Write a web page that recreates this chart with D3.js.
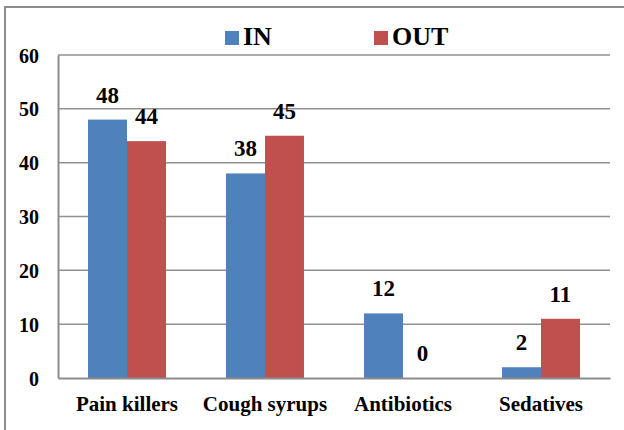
<!DOCTYPE html>
<html>
<head>
<meta charset="utf-8">
<script src="https://cdn.jsdelivr.net/npm/d3@7/dist/d3.min.js"></script>
<style>
  body { margin: 0; background: #fff; }
  svg { display: block; }
</style>
</head>
<body>
<svg id="chart" width="624" height="430"></svg>
<script>
// data
var categories = ["Pain killers", "Cough syrups", "Antibiotics", "Sedatives"];
var seriesNames = ["IN", "OUT"];
var inValues = [48, 38, 12, 2];
var outValues = [44, 45, 0, 11];
var yTicks = [0, 10, 20, 30, 40, 50, 60];
var colors = ["#4f81bd", "#c0504d"];

var fontFamily = "'Times New Roman', 'Liberation Serif', serif";

var svg = d3.select("#chart");

function boldText(sel, size) {
  return sel.attr("font-family", fontFamily)
    .attr("font-weight", "bold")
    .attr("font-size", size)
    .style("font-family", fontFamily)
    .style("font-weight", "bold")
    .style("font-size", size + "px")
    .attr("fill", "#000");
}

// outer frame (runs off the right and bottom edge like the source)
svg.append("path")
  .attr("d", "M5,440 L5,7 L640,7")
  .attr("fill", "none")
  .attr("stroke", "#8c8c8c")
  .attr("stroke-width", 2);

var plotLeft = 58, plotRight = 610, plotTop = 55, plotBottom = 378;

var y = d3.scaleLinear().domain([0, 60]).range([plotBottom, plotTop]);
var x0 = d3.scaleBand().domain(categories).range([plotLeft, plotRight]).paddingInner(0.435).paddingOuter(0.2175);
var x1 = d3.scaleBand().domain(seriesNames).range([0, x0.bandwidth()]);

// gridlines
svg.append("g")
  .selectAll("line")
  .data(yTicks.filter(function(d) { return d > 0; }))
  .enter().append("line")
  .attr("x1", plotLeft).attr("x2", plotRight)
  .attr("y1", function(d) { return y(d); })
  .attr("y2", function(d) { return y(d); })
  .attr("stroke", "#909090")
  .attr("stroke-width", 1.5);

// y axis
var yAxis = svg.append("g")
  .attr("transform", "translate(" + plotLeft + ",0)")
  .call(d3.axisLeft(y).tickValues(yTicks).tickSize(0).tickPadding(19));
yAxis.attr("font-family", null).attr("font-size", null);
yAxis.select(".domain").attr("stroke", "#8c8c8c").attr("stroke-width", 2);
boldText(yAxis.selectAll("text"), 20).attr("dy", "0.35em");

var rows = categories.map(function(c, i) {
  return { cat: c, vals: [inValues[i], outValues[i]] };
});

var groups = svg.append("g").selectAll("g")
  .data(rows)
  .enter().append("g")
  .attr("transform", function(d) { return "translate(" + x0(d.cat) + ",0)"; });

groups.selectAll("rect")
  .data(function(d) { return d.vals.map(function(v, j) { return { name: seriesNames[j], v: v, j: j }; }); })
  .enter().append("rect")
  .attr("x", function(d) { return x1(d.name); })
  .attr("y", function(d) { return y(d.v); })
  .attr("width", x1.bandwidth())
  .attr("height", function(d) { return plotBottom - y(d.v); })
  .attr("fill", function(d) { return colors[d.j]; });

var labels = groups.selectAll("text")
  .data(function(d) { return d.vals.map(function(v, j) { return { name: seriesNames[j], v: v }; }); })
  .enter().append("text")
  .attr("x", function(d) { return x1(d.name) + x1.bandwidth() / 2; })
  .attr("y", function(d) { return y(d.v) - 17; })
  .attr("text-anchor", "middle")
  .text(function(d) { return d.v; });
boldText(labels, 23);

// x axis
var xAxis = svg.append("g")
  .attr("transform", "translate(0," + plotBottom + ")")
  .call(d3.axisBottom(x0).tickSize(0).tickPadding(0));
xAxis.attr("font-family", null).attr("font-size", null);
xAxis.select(".domain").attr("stroke", "#8c8c8c").attr("stroke-width", 2);
boldText(xAxis.selectAll("text"), 21).attr("dy", null).attr("y", 33);

// legend
var legend = svg.append("g");
var legendX = [225, 374];
seriesNames.forEach(function(name, i) {
  legend.append("rect")
    .attr("x", legendX[i]).attr("y", 31)
    .attr("width", 14).attr("height", 14)
    .attr("fill", colors[i]);
  boldText(legend.append("text"), 26)
    .attr("x", legendX[i] + 18).attr("y", 45)
    .text(name);
});
</script>
</body>
</html>
